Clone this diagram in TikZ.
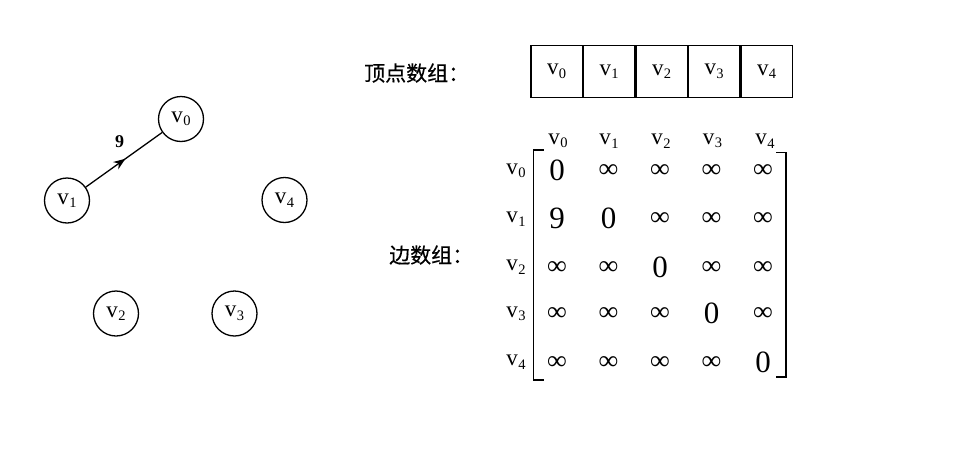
\documentclass[tikz,border=0pt]{standalone}
\usepackage{fontspec}
\usepackage{graphicx}
\setmainfont{Liberation Serif}
\newfontfamily\cjkfont{Noto Sans CJK SC}[FakeBold=0.4]
\usetikzlibrary{decorations.markings,arrows.meta}
\newcommand\vsub[1]{v\kern0.3pt\raisebox{-3.5pt}{\fontsize{14.5}{14.5}\selectfont#1}}
\newcommand\bigfont{\fontsize{23}{23}\selectfont}
\newcommand\numfont{\fontsize{31}{31}\selectfont}
\newcommand\inffont{\fontsize{27}{27}\selectfont\bfseries}
\begin{document}
\begin{tikzpicture}[x=1pt,y=-1pt,
  vert/.style={circle,draw,line width=1.3pt,minimum size=45pt,inner sep=0pt,font=\bigfont},
  cell/.style={draw,line width=1.3pt,minimum width=51.2pt,minimum height=52.5pt,inner sep=0pt,font=\bigfont},
  lab/.style={inner sep=0pt,font=\bigfont},
  ent/.style={inner sep=0pt,font=\numfont},
  inf/.style={inner sep=0pt,font=\inffont},
  cjk/.style={inner sep=0pt,anchor=west,font={\cjkfont\fontsize{21}{21}\selectfont}},
  edgeline/.style={line width=1.3pt,postaction={decorate},decoration={markings,mark=at position 0.52 with {\arrow{Stealth[length=12pt,width=9pt]}}}},
  bracket/.style={line width=1.5pt}]
\path[use as bounding box] (0,0) rectangle (958,458);
% graph
\node[vert] (v0) at (181,119) {\vsub{0}};
\node[vert] (v1) at (67,200.5) {\vsub{1}};
\node[vert] (v4) at (284.5,200) {\vsub{4}};
\node[vert] (v2) at (116,313.5) {\vsub{2}};
\node[vert] (v3) at (234.5,313.5) {\vsub{3}};
\draw[edgeline] (v1) -- (v0);
\node[inner sep=0pt,font=\fontsize{18}{18}\selectfont\bfseries] (w) at (119.5,142) {9};
% vertex array
\node[cjk] (t1) at (364,73) {顶点数组：};
\node[cell] (a0) at (556.6,71.5) {\vsub{0}};
\node[cell,anchor=west] (a1) at (a0.east) {\vsub{1}};
\node[cell,anchor=west] (a2) at (a1.east) {\vsub{2}};
\node[cell,anchor=west] (a3) at (a2.east) {\vsub{3}};
\node[cell,anchor=west] (a4) at (a3.east) {\vsub{4}};
% edge array
\node[cjk] (t2) at (389,255) {边数组：};
% headers
\foreach \i/\x in {0/558,1/609,2/661,3/712.5,4/765}{
  \node[lab] (h\i) at (\x,141) {\vsub{\i}};
}
\foreach \i/\y in {0/171,1/219,2/267,3/314,4/362}{
  \node[lab] (r\i) at (516,\y) {\vsub{\i}};
}
% entries
\foreach \j/\x in {0/557,1/608.5,2/660,3/711.5,4/763}{
  \foreach \i/\y in {0/170,1/218.5,2/267,3/313.5,4/362}{
    \ifnum\i=\j
      \node[ent] (m\i\j) at (\x,\y) {0};
    \else
      \ifnum\i=1 \ifnum\j=0
        \node[ent] (m\i\j) at (\x,\y) {9};
      \else
        \node[inf] (m\i\j) at (\x,\y+1) {∞};
      \fi
      \else
        \node[inf] (m\i\j) at (\x,\y+1) {∞};
      \fi
    \fi
  }
}
\coordinate (lt) at (533.5,150);
\coordinate (lb) at (533.5,380);
\coordinate (rt) at (786,152.5);
\coordinate (rb) at (786,377);
\draw[bracket] ([xshift=10pt]lt) -- (lt) -- (lb) -- ([xshift=10pt]lb);
\draw[bracket] ([xshift=-10pt]rt) -- (rt) -- (rb) -- ([xshift=-10pt]rb);
\end{tikzpicture}
\end{document}
